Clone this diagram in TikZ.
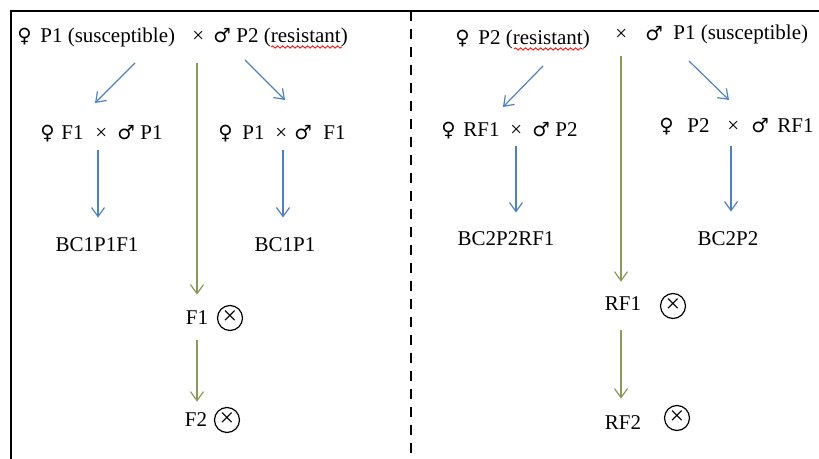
\documentclass[tikz,border=0pt]{standalone}
\usepackage{fontspec}
\setmainfont{Liberation Serif}
\newfontfamily\gsym{DejaVu Sans}
\usetikzlibrary{arrows.meta,calc,decorations.pathmorphing}
\definecolor{crossblue}{RGB}{79,129,189}
\definecolor{selfgreen}{RGB}{138,154,91}
\tikzset{
    lbl/.style={inner sep=0pt, anchor=base west, font=\fontsize{10.5}{12}\selectfont},
    sym/.style={inner sep=0pt, anchor=base west, font=\gsym\fontsize{9.8}{12}\selectfont},
    gen/.style={inner sep=0pt, font=\fontsize{10.5}{12}\selectfont},
    selfing/.style={circle, draw, line width=0.6pt, minimum size=12.5pt, inner sep=0pt, font=\fontsize{13}{14}\selectfont},
    barrow/.style={crossblue, line width=0.6pt, -{Straight Barb[length=4.5pt,width=6.5pt]}},
    garrow/.style={selfgreen, line width=0.6pt, -{Straight Barb[length=4.5pt,width=6.5pt]}},
    spell/.style={red, line width=0.4pt, decorate, decoration={snake, amplitude=0.6pt, segment length=2.5pt}}
}

\begin{document}
\begin{tikzpicture}[x=0.5pt,y=-0.5pt]
    \useasboundingbox (0,0) rectangle (819,459);
    \draw[line width=0.8pt] (11,459) -- (11,11) -- (819,11);
    \draw[line width=1pt, dash pattern=on 5pt off 4pt] (411,11) -- (411,459);

    \node[sym] (fa) at (17,43) {♀};
    \node[lbl] (pa) at (40,43) {P1 (susceptible)};
    \node[lbl] (xa) at (192,43) {×};
    \node[sym] (ma) at (213,43) {♂};
    \node[lbl] (pb) at (236,43) {P2 (resistant)};
    \draw[spell] (271,47) -- (342,47);

    \node[sym] (fb) at (40,140) {♀};
    \node[lbl] (fbx) at (61,140) {F1};
    \node[lbl] (xb) at (95,140) {×};
    \node[sym] (mb) at (117,140) {♂};
    \node[lbl] (mbx) at (140,140) {P1};
    \node[sym] (fc) at (218,140) {♀};
    \node[lbl] (fcx) at (242,140) {P1};
    \node[lbl] (xc) at (275,140) {×};
    \node[sym] (mc) at (294,140) {♂};
    \node[lbl] (mcx) at (323,140) {F1};

    \node[gen] (bca) at (97,245) {BC1P1F1};
    \node[gen] (bcb) at (285,245) {BC1P1};
    \node[gen] (fone) at (197,318) {F1};
    \node[selfing] (sa) at (230,318) {×};
    \node[gen] (ftwo) at (196,420) {F2};
    \node[selfing] (sb) at (227,420) {×};

    \node[sym] (fd) at (455,45) {♀};
    \node[lbl] (pc) at (478,45) {P2 (resistant)};
    \node[lbl] (xd) at (615,41) {×};
    \node[sym] (md) at (645,41) {♂};
    \node[lbl] (pd) at (673,40) {P1 (susceptible)};
    \draw[spell] (514,49) -- (584,49);

    \node[sym] (fe) at (441,137) {♀};
    \node[lbl] (fex) at (463,137) {RF1};
    \node[lbl] (xe) at (510,137) {×};
    \node[sym] (me) at (532,137) {♂};
    \node[lbl] (mex) at (555,137) {P2};
    \node[sym] (ff) at (659,133) {♀};
    \node[lbl] (ffx) at (687,133) {P2};
    \node[lbl] (xf) at (727,133) {×};
    \node[sym] (mf) at (751,133) {♂};
    \node[lbl] (mfx) at (777,133) {RF1};

    \node[gen] (bcc) at (506,239) {BC2P2RF1};
    \node[gen] (bcd) at (728,239) {BC2P2};
    \node[gen] (rone) at (623,304) {RF1};
    \node[selfing] (sc) at (673,306) {×};
    \node[gen] (rtwo) at (623,423) {RF2};
    \node[selfing] (sd) at (677,418) {×};

    \coordinate (da) at (135,63);
    \coordinate (db) at (95,103);
    \coordinate (dc) at (245,60);
    \coordinate (dd) at (285,100);
    \coordinate (de) at (543,66);
    \coordinate (df) at (503,107);
    \coordinate (dg) at (689,61);
    \coordinate (dh) at (729,100);
    \draw[barrow] (da) -- (db);
    \draw[barrow] (dc) -- (dd);
    \draw[barrow] (de) -- (df);
    \draw[barrow] (dg) -- (dh);

    \coordinate (va) at (98,150);
    \coordinate (vb) at (283,150);
    \coordinate (vc) at (516,146);
    \coordinate (vd) at (731,146);
    \draw[barrow, shorten >=10pt] (va) -- (va |- bca.north);
    \draw[barrow, shorten >=10pt] (vb) -- (vb |- bcb.north);
    \draw[barrow, shorten >=9.5pt] (vc) -- (vc |- bcc.north);
    \draw[barrow, shorten >=10pt] (vd) -- (vd |- bcd.north);

    \coordinate (ga) at (197,63);
    \coordinate (gb) at (621,56);
    \draw[garrow, shorten >=8pt] (ga) -- (ga |- fone.north);
    \draw[garrow, shorten <=7.5pt, shorten >=5.5pt] (fone.south) -- (fone.south |- ftwo.north);
    \draw[garrow, shorten >=7.5pt] (gb) -- (gb |- rone.north);
    \draw[garrow, shorten <=9.5pt, shorten >=8.5pt] (gb |- rone.south) -- (gb |- rtwo.north);
\end{tikzpicture}
\end{document}
